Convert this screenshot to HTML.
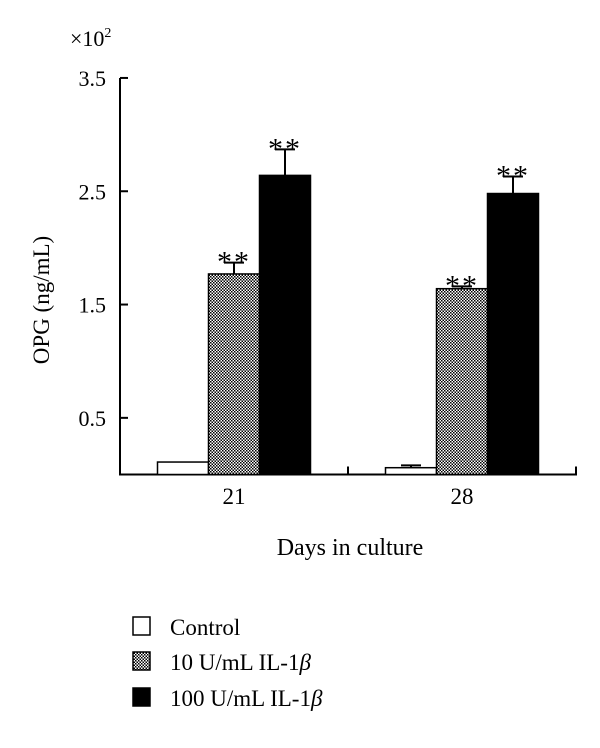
<!DOCTYPE html>
<html><head><meta charset="utf-8"><style>
body{margin:0;background:#fff;}
svg text{font-family:"Liberation Serif",serif;fill:#000;}
</style></head><body>
<svg width="600" height="743" viewBox="0 0 600 743" xmlns="http://www.w3.org/2000/svg">
<defs>
<pattern id="checker" width="3" height="3" patternUnits="userSpaceOnUse">
<rect width="3" height="3" fill="#fff"/>
<rect width="1.5" height="1.5" fill="#000"/>
<rect x="1.5" y="1.5" width="1.5" height="1.5" fill="#000"/>
</pattern>
</defs>
<g id="chart"></g>
<text x="70" y="46" font-size="22">×10<tspan font-size="14" dy="-9">2</tspan></text>
<text transform="translate(49,300) rotate(-90)" text-anchor="middle" font-size="23">OPG (ng/mL)</text>
<text x="350" y="555" text-anchor="middle" font-size="24">Days in culture</text>
<g>
<rect x="133" y="617" width="17" height="18" fill="#fff" stroke="#000" stroke-width="1.5"/>
<text x="170" y="635" font-size="23">Control</text>
<rect x="133" y="652" width="17" height="18" fill="url(#checker)" stroke="#000" stroke-width="1.5"/>
<text x="170" y="670" font-size="23">10 U/mL IL-1<tspan font-style="italic">β</tspan></text>
<rect x="133" y="688" width="17" height="18" fill="#000" stroke="#000" stroke-width="1.5"/>
<text x="170" y="706" font-size="23">100 U/mL IL-1<tspan font-style="italic">β</tspan></text>
</g>
</svg>
<script>
const categories = ["21", "28"];
const controlValues = [0.11, 0.06];
const controlErrors = [0.0, 0.02];
const il10Values = [1.77, 1.64];
const il10Errors = [0.10, 0.02];
const il100Values = [2.64, 2.48];
const il100Errors = [0.23, 0.15];
const yTicks = [0.5, 1.5, 2.5, 3.5];
const yTickLabels = ["0.5", "1.5", "2.5", "3.5"];

const NS = "http://www.w3.org/2000/svg";
const g = document.getElementById("chart");
const x0 = 120, x1 = 576, yBase = 474.5, unit = 113.3;
const y = v => yBase - v * unit;
const groupW = (x1 - x0) / categories.length;
const barW = 51;
function mk(tag, attrs) {
  const e = document.createElementNS(NS, tag);
  for (const k in attrs) e.setAttribute(k, attrs[k]);
  g.appendChild(e);
  return e;
}
// axes
let ax = mk("path", {d: `M${x0} ${y(3.5)} L${x0} ${yBase} L${x1} ${yBase} L${x1} ${yBase-8}`, fill: "none", stroke: "#000", "stroke-width": 2});


yTicks.forEach((t, i) => {
  const tk = mk("line", {x1: x0, x2: x0 + 8, y1: y(t), y2: y(t), stroke: "#000", "stroke-width": 2});
  
  
  const lb = mk("text", {x: 106, y: y(t) + 8, "text-anchor": "end", "font-size": 22});
  lb.textContent = yTickLabels[i];
  
  
});
for (let i = 1; i < categories.length; i++) {
  const tk = mk("line", {x1: x0 + groupW * i, x2: x0 + groupW * i, y1: yBase, y2: yBase - 8, stroke: "#000", "stroke-width": 2});
  
  
}
const series = [
  {vals: controlValues, errs: controlErrors, fill: "#fff", name: "control", star: false},
  {vals: il10Values, errs: il10Errors, fill: "url(#checker)", name: "10u", star: true},
  {vals: il100Values, errs: il100Errors, fill: "#000", name: "100u", star: true}
];
categories.forEach((c, ci) => {
  const cx = x0 + groupW * (ci + 0.5);
  const lb = mk("text", {x: cx, y: 504, "text-anchor": "middle", "font-size": 23});
  lb.textContent = c;
  
  
  series.forEach((s, si) => {
    const bx = cx - 1.5 * barW + si * barW;
    const v = s.vals[ci], e = s.errs[ci];
    const mid = bx + barW / 2;
    if (e > 0) {
      const el = mk("path", {d: `M${mid} ${y(v)} L${mid} ${y(v+e)} M${mid-10} ${y(v+e)} L${mid+10} ${y(v+e)}`, stroke: "#000", "stroke-width": 2, fill: "none"});
      
      
    }
    const r = mk("rect", {x: bx, y: y(v), width: barW, height: yBase - y(v), fill: s.fill, stroke: "#000", "stroke-width": 1.5});
    
    
    if (s.star) {
      const st = mk("text", {x: mid, y: y(v + e) + 9, "text-anchor": "middle", "font-size": 30, "letter-spacing": "2"});
      st.textContent = "**";
      
      
    }
  });
});
</script>
</body></html>
